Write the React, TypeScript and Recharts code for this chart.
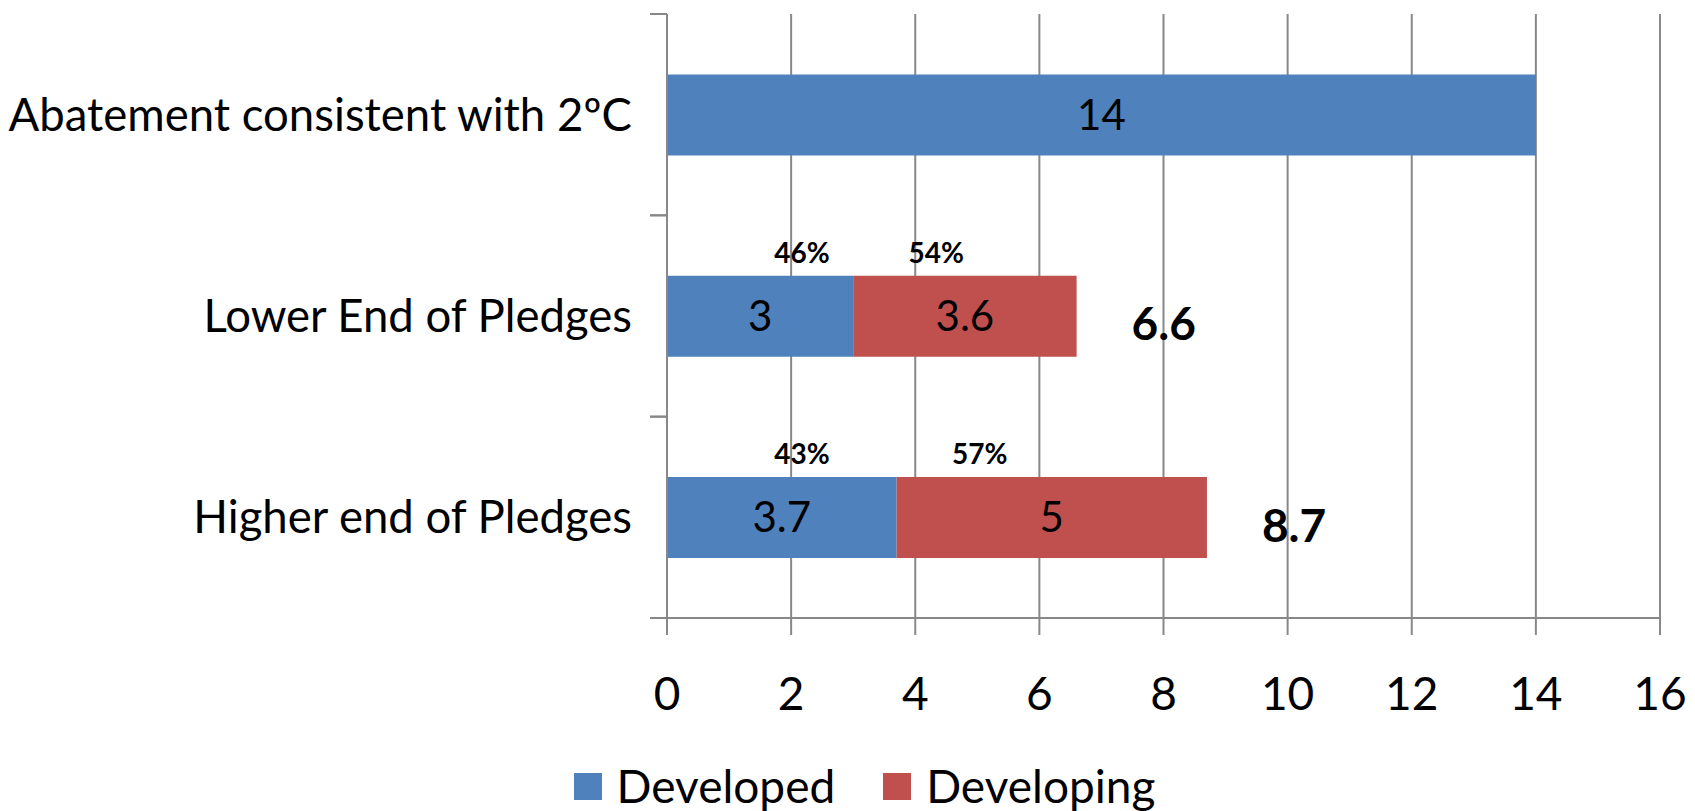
import {
  BarChart,
  Bar,
  XAxis,
  YAxis,
  CartesianGrid,
  Legend,
  LabelList,
} from 'recharts';

const categories = [
  'Abatement consistent with 2ºC',
  'Lower End of Pledges',
  'Higher end of Pledges',
];
const developed = [14, 3, 3.7];
const developing = [null, 3.6, 5];
const developedShare = ['', '46%', '43%'];
const developingShare = ['', '54%', '57%'];
const totals = ['', '6.6', '8.7'];
const xTicks = [0, 2, 4, 6, 8, 10, 12, 14, 16];

const SERIES = [
  { key: 'developed', name: 'Developed', color: '#4F81BD' },
  { key: 'developing', name: 'Developing', color: '#C0504D' },
];

const FONT = 'Lato, "Open Sans", sans-serif';
const GRID = '#888888';
const TICK_SIZE = 17;
const TICK_MARGIN = 18;

const rows = categories.map((name, i) => ({
  name,
  developed: developed[i],
  developing: developing[i],
  developedShare: developedShare[i],
  developingShare: developingShare[i],
  total: totals[i],
}));

const boxOf = (p: any) => p.viewBox ?? p;

function CategoryTick(props: any) {
  const { x, y, payload } = props;
  const half = payload?.offset ?? 0;
  const lx = x + TICK_MARGIN;
  return (
    <g>
      <text
        x={x}
        y={y}
        dy="0.355em"
        textAnchor="end"
        fontFamily={FONT}
        fontSize={45.5}
        fill="#000"
      >
        {payload.value}
      </text>
      <line x1={lx} x2={lx + TICK_SIZE} y1={y - half} y2={y - half} stroke={GRID} strokeWidth={2} />
      <line x1={lx} x2={lx + TICK_SIZE} y1={y + half} y2={y + half} stroke={GRID} strokeWidth={2} />
    </g>
  );
}

function ValueLabel(props: any) {
  const { value } = props;
  if (value === null || value === undefined || value === '') return null;
  const b = boxOf(props);
  return (
    <text
      x={b.x + b.width / 2}
      y={b.y + b.height / 2}
      dy="0.35em"
      textAnchor="middle"
      fontFamily={FONT}
      fontSize={42}
      fill="#000"
    >
      {value}
    </text>
  );
}

const shareLabel = (shift: number) => (props: any) => {
  const { value } = props;
  if (!value) return null;
  const b = boxOf(props);
  return (
    <text
      x={b.x + shift}
      y={b.y - 23}
      dy="0.35em"
      textAnchor="middle"
      fontFamily={FONT}
      fontWeight="bold"
      fontSize={28}
      fill="#000"
    >
      {value}
    </text>
  );
};

function TotalLabel(props: any) {
  const { value } = props;
  if (!value) return null;
  const b = boxOf(props);
  return (
    <text
      x={b.x + b.width + 55}
      y={b.y + b.height / 2 + 8}
      dy="0.35em"
      textAnchor="start"
      fontFamily={FONT}
      fontWeight="bold"
      fontSize={46}
      fill="#000"
    >
      {value}
    </text>
  );
}

function LegendContent() {
  return (
    <div
      style={{
        display: 'flex',
        justifyContent: 'center',
        alignItems: 'center',
        height: 50,
        paddingLeft: 34,
        gap: 48,
        fontFamily: FONT,
        fontSize: 46,
        lineHeight: '50px',
        color: '#000',
      }}
    >
      {SERIES.map((s) => (
        <div key={s.key} style={{ display: 'flex', alignItems: 'center' }}>
          <span
            style={{
              display: 'inline-block',
              width: 28,
              height: 27,
              background: s.color,
              marginRight: 15,
            }}
          />
          <span>{s.name}</span>
        </div>
      ))}
    </div>
  );
}

export default function App() {
  return (
    <div style={{ position: 'absolute', left: 0, top: 0, background: '#fff' }}>
      <BarChart
        layout="vertical"
        width={1695}
        height={811}
        data={rows}
        margin={{ top: 14, right: 35, bottom: 0, left: 0 }}
        barCategoryGap="30%"
      >
        <CartesianGrid horizontal={false} stroke={GRID} strokeWidth={2} />
        <XAxis
          type="number"
          domain={[0, 16]}
          ticks={xTicks}
          interval={0}
          height={143}
          tickSize={17}
          tickMargin={42}
          axisLine={{ stroke: GRID, strokeWidth: 2 }}
          tickLine={{ stroke: GRID, strokeWidth: 2 }}
          tick={{ fontFamily: FONT, fontSize: 46, fill: '#000' }}
        />
        <YAxis
          type="category"
          dataKey="name"
          width={667}
          tickSize={TICK_SIZE}
          tickMargin={TICK_MARGIN}
          tickLine={false}
          axisLine={{ stroke: GRID, strokeWidth: 2 }}
          tick={<CategoryTick />}
          interval={0}
        />
        <Legend
          verticalAlign="bottom"
          content={<LegendContent />}
          wrapperStyle={{ left: 0, width: 1695, height: 50 }}
        />
        <Bar
          dataKey="developed"
          name="Developed"
          stackId="a"
          fill={SERIES[0].color}
          isAnimationActive={false}
        >
          <LabelList dataKey="developed" content={ValueLabel} />
          <LabelList dataKey="developedShare" content={shareLabel(135)} />
        </Bar>
        <Bar
          dataKey="developing"
          name="Developing"
          stackId="a"
          fill={SERIES[1].color}
          isAnimationActive={false}
        >
          <LabelList dataKey="developing" content={ValueLabel} />
          <LabelList dataKey="developingShare" content={shareLabel(83)} />
          <LabelList dataKey="total" content={TotalLabel} />
        </Bar>
      </BarChart>
    </div>
  );
}
